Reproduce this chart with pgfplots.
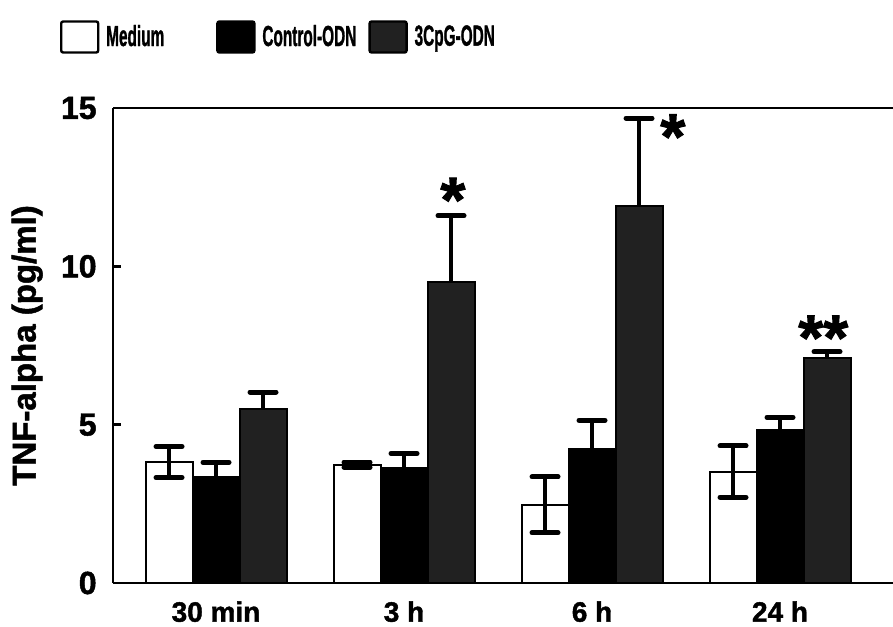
\documentclass[border=0pt]{standalone}
\usepackage{fontspec}
\setmainfont{Liberation Sans}[BoldFont={Liberation Sans Bold},BoldFeatures={FakeBold=1.5}]
\usepackage{pgfplots}
\pgfplotsset{compat=1.18}
\usepackage{pgfplotstable}
\pgfplotstableread{
x m me c ce g ge
0 3.82 0.49 3.36 0.45 5.49 0.54
1 3.74 0.08 3.62 0.47 9.51 2.09
2 2.47 0.88 4.22 0.92 11.92 2.76
3 3.52 0.81 4.82 0.41 7.10 0.20
}\data
\definecolor{cpg}{gray}{0.13}
\newcommand{\legtext}[2]{\makebox[#1][l]{\fontsize{14.5}{14.5}\selectfont\bfseries\scalebox{0.53}[1]{#2}}}
\begin{document}
\begin{tikzpicture}
\useasboundingbox (0,0) rectangle (446.5pt,313pt);
\begin{axis}[
  at={(56.5pt,21.5pt)}, anchor=south west,
  scale only axis, width=390pt, height=237.5pt,
  xmin=-0.548, xmax=3.601, ymin=0, ymax=15,
  axis x line*=bottom, axis y line*=left,
  axis line style={line width=1.3pt},
  ytick={0,5,10,15}, tick align=inside, major tick length=4pt,
  tick style={line width=1.2pt, black},
  xtick={0,1,2,3}, xticklabels={30 min,3 h,6 h,24 h},
  xtick style={draw=none},
  /pgf/number format/assume math mode=true,
  yticklabel style={font=\fontsize{16}{16}\selectfont\bfseries, inner sep=0pt, xshift=-8pt},
  xticklabel style={font=\fontsize{14}{14}\selectfont\bfseries, inner sep=0pt, yshift=-5pt},
  ylabel={TNF-alpha (pg/ml)},
  ylabel style={font=\fontsize{16.5}{16.5}\selectfont\bfseries, at={(axis description cs:-0.0897,0.5)}, anchor=south, inner sep=0pt},
  ybar, bar width=0.25,
  legend columns=3,
  legend style={at={(axis description cs:0,1)}, anchor=west, xshift=-26.5pt, yshift=35.5pt, draw=none, inner sep=0pt, outer sep=0pt, nodes={inner sep=0pt, outer sep=0pt}, column sep=0pt},
  legend image code/.code={\draw[#1,/tikz/.cd,line width=1.2pt,draw=black,rounded corners=1pt] (0pt,-7.75pt) rectangle (18.5pt,7.75pt); \path (22pt,0pt);},
  error bars/error bar style={line width=2pt, black},
  error bars/error mark=|,
  error bars/error mark options={line width=2.5pt, mark size=6.5pt, black, line cap=round},
]
\addplot[fill=white, draw=black, line width=1pt, bar shift=-0.25,
  error bars/.cd, y dir=both, y explicit] table[x=x, y=m, y error=me] {\data};
\addplot[fill=black, draw=black, line width=1pt, bar shift=0,
  error bars/.cd, y dir=plus, y explicit] table[x=x, y=c, y error=ce] {\data};
\addplot[fill=cpg, draw=black, line width=1pt, bar shift=0.25,
  error bars/.cd, y dir=plus, y explicit] table[x=x, y=g, y error=ge] {\data};
\legend{\legtext{55pt}{Medium},\legtext{53pt}{Control-ODN},\legtext{40pt}{3CpG-ODN}}
\draw[line width=1.3pt] (rel axis cs:0,1) -- (rel axis cs:1,1);
\node[font=\fontsize{32}{32}\selectfont\bfseries] at (axis cs:1.26,12.1) {*};
\node[font=\fontsize{32}{32}\selectfont\bfseries] at (axis cs:2.43,14.1) {*};
\node[font=\fontsize{32}{32}\selectfont\bfseries] at (axis cs:3.23,7.75) {**};
\end{axis}
\end{tikzpicture}
\end{document}
